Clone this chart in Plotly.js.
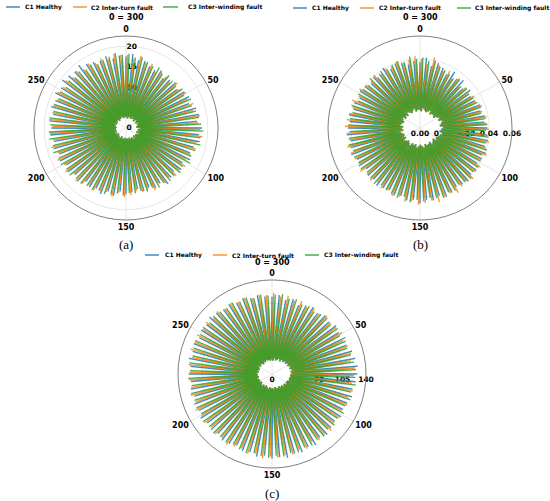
<!DOCTYPE html>
<html>
<head>
<meta charset="utf-8">
<script src="https://cdn.plot.ly/plotly-3.0.1.min.js"></script>
<style>html,body{margin:0;padding:0;background:#fff;}#chart{width:550px;height:501px;}</style>
</head>
<body>
<div id="chart"></div>
<script>
// ---- data ----
const SAMPLES = 300;                       // one revolution = 300 samples
const seriesNames = ["C1 Healthy", "C2 Inter-turn fault", "C3 Inter-winding fault"];
const seriesColors = ["#1f77b4", "#ff7f0e", "#2ca02c"];
const seriesPhase = [0, 0.22, 0.44];       // offset of each series' spikes, in spike periods
const angTickVals = [0, 50, 100, 150, 200, 250];
const angTickText = ["0", "50", "100", "150", "200", "250"];

// (a)
const aC1Peaks = [17.5,18.2,16.8,17.0,16.1,15.8,16.5,15.2,15.9,16.4,15.6,16.8,17.2,16.5,17.8,18.1,17.4,
  18.6,17.9,18.3,17.2,16.8,17.5,16.2,16.9,15.8,16.4,17.1,15.9,16.3,15.5,16.0,15.2,15.8,
  16.2,15.6,16.8,16.1,17.3,16.5,17.0,16.4,17.6,16.9,17.8,17.2,18.0,17.5,18.4,17.9,18.6,
  18.3,18.8,18.1,19.0,18.5,19.3,18.7,19.5,19.0,18.6,19.2,18.4,18.0,17.6,18.2,17.3,17.8];
const aC2Peaks = [17.9,17.1,18.0,16.6,16.9,15.5,16.2,16.0,15.4,16.7,16.1,17.0,16.6,17.5,17.0,18.3,17.7,
  18.2,18.8,17.6,17.9,17.0,16.6,17.3,16.5,16.9,16.0,16.6,15.7,16.8,15.9,16.2,15.6,
  16.5,16.9,15.9,17.1,16.4,16.8,17.2,16.7,17.4,17.9,17.1,18.2,17.6,18.5,17.8,18.9,18.2,
  18.7,18.0,18.9,18.4,18.6,18.1,18.9,18.3,18.8,18.0,18.5,17.7,18.3,17.6,18.1,17.4,18.4,17.9];
const aC3Peaks = [18.2,17.4,17.8,17.0,16.5,16.9,15.9,16.6,16.2,16.0,16.8,16.3,17.4,17.0,17.6,18.0,18.4,
  18.9,18.4,18.7,17.8,17.4,17.9,16.8,17.2,16.6,16.9,16.3,16.7,16.0,16.4,15.8,16.1,
  15.9,16.6,16.2,16.7,17.0,16.6,17.3,17.1,17.5,17.4,18.0,17.7,18.3,18.1,18.8,18.4,19.0,
  18.9,18.5,18.8,18.2,18.5,18.0,18.4,17.8,18.2,17.5,18.0,17.3,17.8,17.1,17.6,17.9,18.5,18.0];
const aTroughs = [2.6,2.9,2.4,3.1,2.8,2.5,3.3,2.7,3.0,2.4,3.2,2.9,2.6,3.4,2.8,3.1,2.5,
  3.0,3.6,2.9,3.3,2.7,3.5,3.0,2.8,3.2,2.6,3.4,2.9,2.7,3.1,2.5,2.9,2.6,
  2.8,2.4,3.0,2.6,2.9,2.3,2.8,3.1,2.5,2.7,2.2,2.9,2.6,3.0,2.4,2.8,2.5,
  2.7,2.3,2.9,2.6,3.1,2.4,2.8,2.5,3.0,2.7,2.3,2.9,2.6,3.2,2.8,2.5,3.0];
const aRadTicks = [0, 5, 10, 15, 20];
const aRadLabels = ["0", "5", "10", "15", "20"];

// (b)
const bC1Peaks = [0.043,0.046,0.041,0.044,0.042,0.039,0.043,0.040,0.042,0.038,0.041,0.039,0.040,0.042,0.041,0.043,0.042,
  0.044,0.043,0.045,0.044,0.046,0.045,0.044,0.046,0.045,0.047,0.046,0.045,0.047,0.048,0.046,0.048,0.047,
  0.049,0.047,0.048,0.046,0.047,0.045,0.046,0.047,0.045,0.046,0.044,0.047,0.046,0.048,0.047,0.046,
  0.048,0.047,0.046,0.047,0.045,0.046,0.044,0.046,0.045,0.043,0.045,0.044,0.046,0.043,0.045,0.044,0.042,0.044];
const bC2Peaks = [0.045,0.042,0.047,0.043,0.040,0.042,0.038,0.041,0.037,0.040,0.039,0.041,0.040,0.043,0.042,0.044,0.043,
  0.045,0.044,0.046,0.045,0.047,0.045,0.047,0.046,0.048,0.046,0.047,0.049,0.047,0.048,0.050,0.048,0.049,
  0.050,0.048,0.049,0.047,0.048,0.046,0.047,0.045,0.047,0.046,0.048,0.046,0.047,0.048,0.049,0.047,0.048,
  0.049,0.048,0.047,0.046,0.048,0.045,0.047,0.045,0.044,0.046,0.043,0.045,0.044,0.046,0.044,0.045,0.047];
const bC3Peaks = [0.046,0.044,0.045,0.042,0.041,0.040,0.039,0.041,0.038,0.040,0.039,0.040,0.041,0.042,0.041,0.043,0.044,
  0.043,0.045,0.044,0.046,0.044,0.045,0.046,0.045,0.047,0.046,0.045,0.047,0.046,0.048,0.047,0.046,0.048,
  0.047,0.049,0.046,0.048,0.047,0.046,0.045,0.047,0.046,0.045,0.047,0.046,0.047,0.046,0.048,0.047,0.046,
  0.047,0.046,0.045,0.047,0.044,0.046,0.045,0.044,0.046,0.043,0.045,0.044,0.045,0.046,0.044,0.047,0.045];
const bTroughs = [0.012,0.011,0.013,0.012,0.011,0.012,0.013,0.011,0.012,0.012,0.011,0.013,0.014,0.013,0.015,0.014,0.013,
  0.015,0.014,0.013,0.015,0.014,0.013,0.012,0.013,0.011,0.012,0.013,0.011,0.012,0.012,0.011,0.013,0.012,
  0.011,0.012,0.013,0.011,0.012,0.011,0.013,0.012,0.011,0.012,0.013,0.011,0.012,0.011,0.012,0.013,0.011,
  0.012,0.011,0.013,0.012,0.011,0.012,0.013,0.011,0.012,0.011,0.013,0.012,0.011,0.012,0.013,0.011,0.012];
const bRadTicks = [0, 0.015, 0.03, 0.045, 0.06];
const bRadLabels = ["0.00", "0.01", "0.03", "0.04", "0.06"];

// (c)
const cC1Peaks = [115,118,112,116,110,114,117,113,118,115,120,117,122,119,124,126,128,
  127,125,122,124,120,118,121,117,119,122,118,124,121,125,123,127,124,
  126,122,125,121,123,119,122,124,120,123,121,125,122,124,120,123,121,
  124,122,126,123,125,121,124,122,126,123,120,122,118,121,117,119,116];
const cC2Peaks = [121,116,119,114,117,112,116,114,119,116,118,121,117,120,122,119,124,
  122,120,123,119,121,117,120,118,122,119,121,117,123,120,124,122,125,
  123,126,121,124,120,122,125,121,123,120,124,122,126,121,125,122,124,
  123,125,122,127,124,126,123,125,121,124,120,122,119,121,117,120,118];
const cC3Peaks = [118,120,115,117,113,115,112,115,117,114,119,116,120,118,121,123,125,
  124,126,121,123,119,122,118,120,117,121,119,122,120,123,121,124,122,
  125,123,121,124,122,120,123,121,124,122,125,121,123,122,124,121,125,
  122,124,121,123,125,122,124,120,123,121,119,122,118,120,116,119,117];
const cTroughs = [22,20,24,21,23,25,22,26,24,27,25,28,26,29,27,30,28,
  29,27,28,26,27,25,24,26,23,25,22,24,21,23,22,20,23,
  21,22,20,23,21,19,22,20,23,21,19,22,20,21,23,20,22,
  21,23,20,22,19,21,23,20,22,21,19,22,20,23,21,22,20];
const cRadTicks = [0, 35, 70, 105, 140];
const cRadLabels = ["0", "35", "70", "105", "140"];

// ---- build ----
const DEG_PER_SAMPLE = 360 / SAMPLES;
function spikeTrace(peaks, troughs, phase, idx, subplot) {
  const n = peaks.length, per = SAMPLES / n;
  const theta = [], r = [];
  for (let k = 0; k < n; k++) {
    theta.push((k - 0.5 + phase) * per * DEG_PER_SAMPLE); r.push(troughs[k % troughs.length]);
    theta.push((k + phase) * per * DEG_PER_SAMPLE); r.push(peaks[k]);
  }
  theta.push((n - 0.5 + phase) * per * DEG_PER_SAMPLE); r.push(troughs[0]);
  return {
    type: "scatterpolar", mode: "lines", theta: theta, r: r, subplot: subplot,
    name: seriesNames[idx], showlegend: false,
    line: {color: seriesColors[idx], width: 1.3}, opacity: 0.85, hoverinfo: "skip"
  };
}
const groups = [
  {sp: "polar", peaks: [aC1Peaks, aC2Peaks, aC3Peaks], tr: aTroughs},
  {sp: "polar2", peaks: [bC1Peaks, bC2Peaks, bC3Peaks], tr: bTroughs},
  {sp: "polar3", peaks: [cC1Peaks, cC2Peaks, cC3Peaks], tr: cTroughs}
];
const traces = [];
groups.forEach(g => {
  for (let i = 0; i < 3; i++) traces.push(spikeTrace(g.peaks[i], g.tr, seriesPhase[i], i, g.sp));
});

const W = 550, H = 501;
function px(x) { return x / W; }
function py(y) { return 1 - y / H; }
const angFont = {family: "DejaVu Sans", size: 8, color: "#000", weight: "bold"};
const radFont = {family: "DejaVu Sans", size: 7.5, color: "#000", weight: "bold"};
function polarCfg(cx, cy, rad, range, tv, tt, radAngle, tickAng) {
  return {
    domain: {x: [px(cx - rad), px(cx + rad)], y: [py(cy + rad), py(cy - rad)]},
    bgcolor: "#ffffff",
    angularaxis: {
      rotation: 90, direction: "clockwise",
      tickvals: angTickVals.map(v => v * DEG_PER_SAMPLE), ticktext: angTickText,
      tickfont: angFont, ticks: "", showline: true, linecolor: "#7f7f7f", linewidth: 1,
      showgrid: true, gridcolor: "#e6e6e6", gridwidth: 1
    },
    radialaxis: {
      range: range, tickvals: tv, ticktext: tt, angle: radAngle, tickangle: tickAng,
      tickfont: radFont, ticks: "", showline: false, showgrid: true,
      gridcolor: "#e6e6e6", gridwidth: 1, layer: "below traces"
    }
  };
}

// hand-placed legends (one per panel), positions in pixels
const legendRows = [
  {y: 7, lines: [[6, 20], [73, 87], [163, 178]], texts: [23, 89, 186]},
  {y: 8, lines: [[293, 307], [360, 374], [457, 471]], texts: [310, 377, 473]},
  {y: 255, lines: [[145, 159], [213, 227], [305, 319]], texts: [163, 230, 322]}
];
const legFont = {family: "DejaVu Sans", size: 6, color: "#000", weight: "bold"};
const shapes = [], annotations = [];
legendRows.forEach(row => {
  for (let i = 0; i < 3; i++) {
    shapes.push({type: "line", xref: "paper", yref: "paper",
      x0: px(row.lines[i][0]), x1: px(row.lines[i][1]), y0: py(row.y), y1: py(row.y),
      line: {color: seriesColors[i], width: 1.5}, opacity: 0.85});
    annotations.push({text: seriesNames[i], xref: "paper", yref: "paper", x: px(row.texts[i]), y: py(row.y),
      xanchor: "left", yanchor: "middle", showarrow: false, font: legFont});
  }
});
const annFont = {family: "DejaVu Sans", size: 8, color: "#000", weight: "bold"};
const capFont = {family: "Liberation Serif", size: 13, color: "#000"};
[[126, 17], [420, 17], [272, 262]].forEach(p => annotations.push(
  {text: "0 = 300", x: px(p[0]), y: py(p[1]), xref: "paper", yref: "paper",
   xanchor: "center", yanchor: "middle", showarrow: false, font: annFont}));
[["(a)", 126, 244], ["(b)", 420, 244], ["(c)", 272, 493]].forEach(p => annotations.push(
  {text: p[0], x: px(p[1]), y: py(p[2]), xref: "paper", yref: "paper",
   xanchor: "center", yanchor: "middle", showarrow: false, font: capFont}));

const layout = {
  width: W, height: H, margin: {l: 0, r: 0, t: 0, b: 0, autoexpand: false},
  paper_bgcolor: "#ffffff", showlegend: false,
  polar: polarCfg(126, 128, 92, [0, 22.5], aRadTicks, aRadLabels, 90, 90),
  polar2: polarCfg(420, 128, 92, [0, 0.06], bRadTicks, bRadLabels, 0, 0),
  polar3: polarCfg(272, 374, 94, [0, 140], cRadTicks, cRadLabels, 0, 0),
  shapes: shapes,
  annotations: annotations
};
Plotly.newPlot("chart", traces, layout, {displayModeBar: false, staticPlot: true});
</script>
</body>
</html>
